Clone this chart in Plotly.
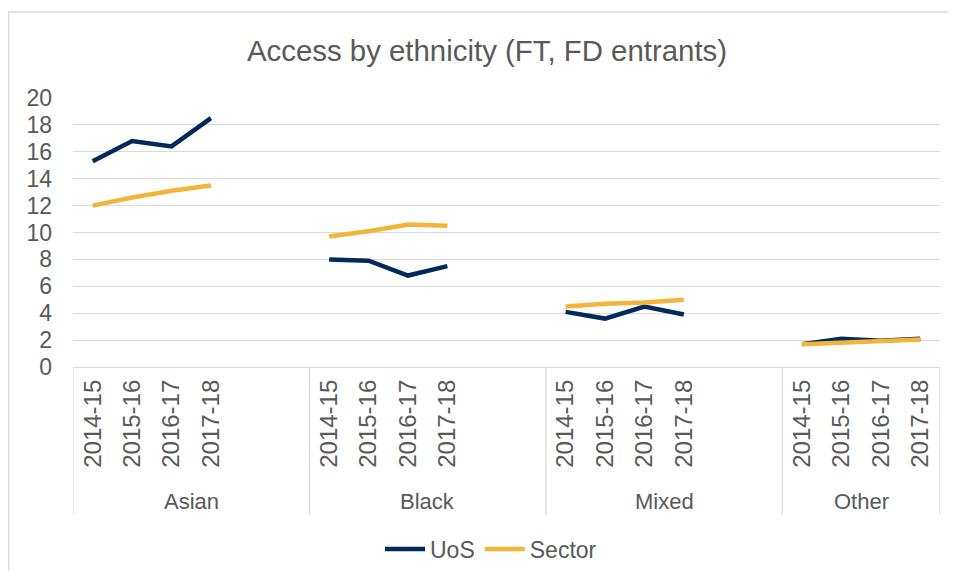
import plotly.graph_objects as go

# categories
groups = ['Asian', 'Black', 'Mixed', 'Other']
years = ['2014-15', '2015-16', '2016-17', '2017-18']

# series values, in group order then year order
uos = [15.3, 16.8, 16.4, 18.5,
       8.0, 7.9, 6.8, 7.5,
       4.1, 3.6, 4.5, 3.9,
       1.7, 2.1, 1.95, 2.1]
sector = [12.0, 12.6, 13.1, 13.5,
          9.7, 10.1, 10.6, 10.5,
          4.5, 4.7, 4.8, 5.0,
          1.7, 1.8, 1.9, 2.05]

y_ticks = list(range(0, 21, 2))

# page geometry (pixels); the browser body adds an 8px margin,
# so the figure is made smaller and all page coords shifted by it
PAGE_W, PAGE_H = 956, 579
OFF = 8
W, H = PAGE_W - 2 * OFF, PAGE_H - 2 * OFF
L, R, T, B = 73 - OFF, 940 - OFF, 98 - OFF, 367 - OFF
SLOTS_PER_GROUP = 6  # 4 years + 2 blank slots
GRID = '#d9d9d9'
TEXT = '#595959'
FONT = 'Liberation Sans, Arial, sans-serif'


def px_x(page_x):
    return (page_x - OFF - L) / (R - L)


def px_y(page_y):
    return (B - (page_y - OFF)) / (B - T)


# x positions with gaps between groups
xs, uos_y, sec_y = [], [], []
tickvals, ticktext = [], []
for g, name in enumerate(groups):
    for i, yr in enumerate(years):
        k = g * len(years) + i
        pos = g * SLOTS_PER_GROUP + i
        xs.append(pos)
        uos_y.append(uos[k])
        sec_y.append(sector[k])
        tickvals.append(pos)
        ticktext.append(yr)
    if g < len(groups) - 1:
        xs.append(None)
        uos_y.append(None)
        sec_y.append(None)

n_slots = SLOTS_PER_GROUP * (len(groups) - 1) + len(years)

fig = go.Figure()
fig.add_trace(go.Scatter(x=xs, y=uos_y, mode='lines', name='UoS',
                         line=dict(color='#012a5b', width=4.5), connectgaps=False))
fig.add_trace(go.Scatter(x=xs, y=sec_y, mode='lines', name='Sector',
                         line=dict(color='#f2b53a', width=4.5), connectgaps=False))

shapes = []
# category axis separators
for g in range(len(groups) + 1):
    xpos = min(g * SLOTS_PER_GROUP, n_slots) - 0.5
    shapes.append(dict(type='line', xref='x', yref='paper', x0=xpos, x1=xpos,
                       y0=0, y1=px_y(515), line=dict(color=GRID, width=1.3)))
# chart border (left and top edge visible)
shapes.append(dict(type='line', xref='paper', yref='paper',
                   x0=px_x(8.5), x1=px_x(8.5), y0=px_y(12), y1=px_y(PAGE_H + 5),
                   line=dict(color=GRID, width=1.5)))
shapes.append(dict(type='line', xref='paper', yref='paper',
                   x0=px_x(8.5), x1=px_x(PAGE_W + 5), y0=px_y(12), y1=px_y(12),
                   line=dict(color=GRID, width=1.5)))

annotations = []
for g, name in enumerate(groups):
    center = g * SLOTS_PER_GROUP + (min(SLOTS_PER_GROUP, n_slots - g * SLOTS_PER_GROUP) - 1) / 2
    annotations.append(dict(x=center, xref='x', y=px_y(501), yref='paper',
                            text=name, showarrow=False, xanchor='center', yanchor='middle',
                            font=dict(size=22, color=TEXT, family=FONT)))

fig.update_layout(
    width=W, height=H,
    margin=dict(l=L, r=W - R, t=T, b=H - B, autoexpand=False),
    paper_bgcolor='white', plot_bgcolor='white',
    title=dict(text='Access by ethnicity (FT, FD entrants)', x=(487 - OFF) / W, xanchor='center',
               y=1 - (51 - OFF) / H, yanchor='middle',
               font=dict(size=29.4, color=TEXT, family=FONT)),
    font=dict(family=FONT, color=TEXT, size=22),
    xaxis=dict(range=[-0.5, n_slots - 0.5], tickvals=tickvals, ticktext=ticktext,
               tickangle=-90, showgrid=False, zeroline=False, showline=True,
               linecolor=GRID, linewidth=1.3, ticks='', ticklabelstandoff=2,
               tickfont=dict(size=24, color=TEXT)),
    yaxis=dict(range=[0, 20], tickvals=y_ticks, showgrid=True, gridcolor=GRID,
               gridwidth=1.3, zeroline=False, showline=False, ticks='',
               ticklabelstandoff=20, tickfont=dict(size=23, color=TEXT)),
    legend=dict(orientation='h', x=px_x(491), xanchor='center', y=px_y(549), yanchor='middle',
                font=dict(size=23, color=TEXT), itemwidth=40),
    shapes=shapes,
    annotations=annotations,
)

fig.write_html('out.html')
